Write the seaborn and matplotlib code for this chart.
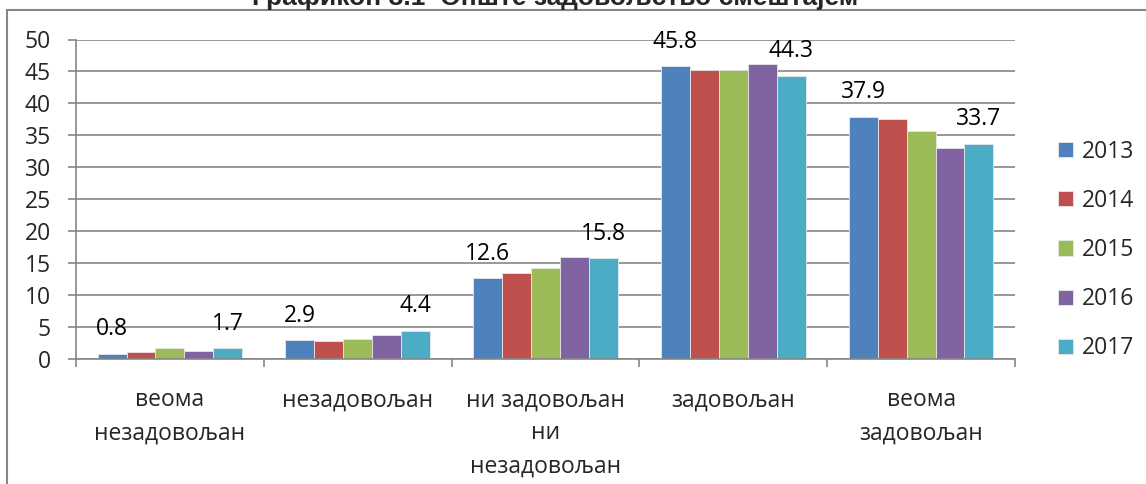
import matplotlib
matplotlib.use("Agg")
import matplotlib.pyplot as plt
import matplotlib.patches as mpatches
import seaborn as sns
import pandas as pd
import numpy as np

categories = ["веома\nнезадовољан", "незадовољан", "ни задовољан\nни\nнезадовољан",
              "задовољан", "веома\nзадовољан"]
years = ["2013", "2014", "2015", "2016", "2017"]
v2013 = [0.8, 2.9, 12.6, 45.8, 37.9]
v2014 = [1.1, 2.8, 13.4, 45.3, 37.5]
v2015 = [1.7, 3.2, 14.3, 45.2, 35.7]
v2016 = [1.3, 3.8, 15.9, 46.2, 33.0]
v2017 = [1.7, 4.4, 15.8, 44.3, 33.7]
labelled_years = ["2013", "2017"]
yticks = list(range(0, 51, 5))
title = "Графикон 3.1  Опште задовољство смештајем"

colors = ["#4F81BD", "#C0504D", "#9BBB59", "#8064A2", "#4BACC6"]

rows = []
for y, vals in zip(years, [v2013, v2014, v2015, v2016, v2017]):
    for c, v in zip(categories, vals):
        rows.append({"cat": c, "year": y, "val": v})
df = pd.DataFrame(rows)

sns.set_theme(style="white")
plt.rcParams['font.family'] = ['Open Sans', 'DejaVu Sans']
FS = 16.5
W, H = 1146, 484
fig = plt.figure(figsize=(W / 100, H / 100), dpi=100)
ax = fig.add_axes([76 / W, 1 - 359 / H, (1015 - 76) / W, (359 - 39.5) / H])

sns.barplot(data=df, x="cat", y="val", hue="year", order=categories, hue_order=years,
            palette=colors, width=0.77, saturation=1, ax=ax, legend=True,
            edgecolor="#e8e8e8", linewidth=0.6)

ax.set_ylim(0, 50)
ax.set_yticks(yticks)
ax.set_xlim(-0.5, len(categories) - 0.5)
ax.set_xlabel("")
ax.set_ylabel("")
gray = "#868686"
ax.yaxis.grid(True, color=gray, linewidth=1.2)
ax.set_axisbelow(True)
for s in ["top", "right"]:
    ax.spines[s].set_visible(False)
for s in ["left", "bottom"]:
    ax.spines[s].set_color(gray)
    ax.spines[s].set_linewidth(1.2)
ax.tick_params(axis="y", which="major", length=6, width=1.2, color=gray, pad=12,
               labelsize=FS, left=True)
ax.tick_params(axis="x", which="major", length=0, pad=21, labelsize=FS)
ax.set_xticks(np.arange(-0.5, len(categories), 1.0), minor=True)
ax.tick_params(axis="x", which="minor", length=6, width=1.2, color=gray, bottom=True)
for lab in ax.get_xticklabels():
    lab.set_linespacing(1.5)
    lab.set_verticalalignment("top")

# data labels for 2013 and 2017
for cont, y in zip(ax.containers, years):
    if y in labelled_years:
        ax.bar_label(cont, labels=[f"{v:.1f}" for v in cont.datavalues],
                     padding=9, fontsize=FS, color="black")

# legend
handles, labels = ax.get_legend_handles_labels()
ax.legend_.remove()
fig.legend(handles, labels, loc="center left", bbox_to_anchor=(1049 / W, 1 - 250 / H),
           frameon=False, fontsize=FS, labelspacing=1.1, handlelength=0.65,
           handleheight=0.65, handletextpad=0.4, borderaxespad=0)

# border
fig.patches.append(mpatches.Rectangle((7 / W, -0.05), 1.2, 1 - 10 / H + 0.05,
                                      transform=fig.transFigure, fill=False,
                                      edgecolor=gray, linewidth=1.5))
fig.text(555 / W, 1 - 5 / H, title, ha="center", va="baseline", fontsize=19,
         fontweight="bold", family=["Liberation Sans", "DejaVu Sans"])

fig.savefig("out.png", dpi=100)
